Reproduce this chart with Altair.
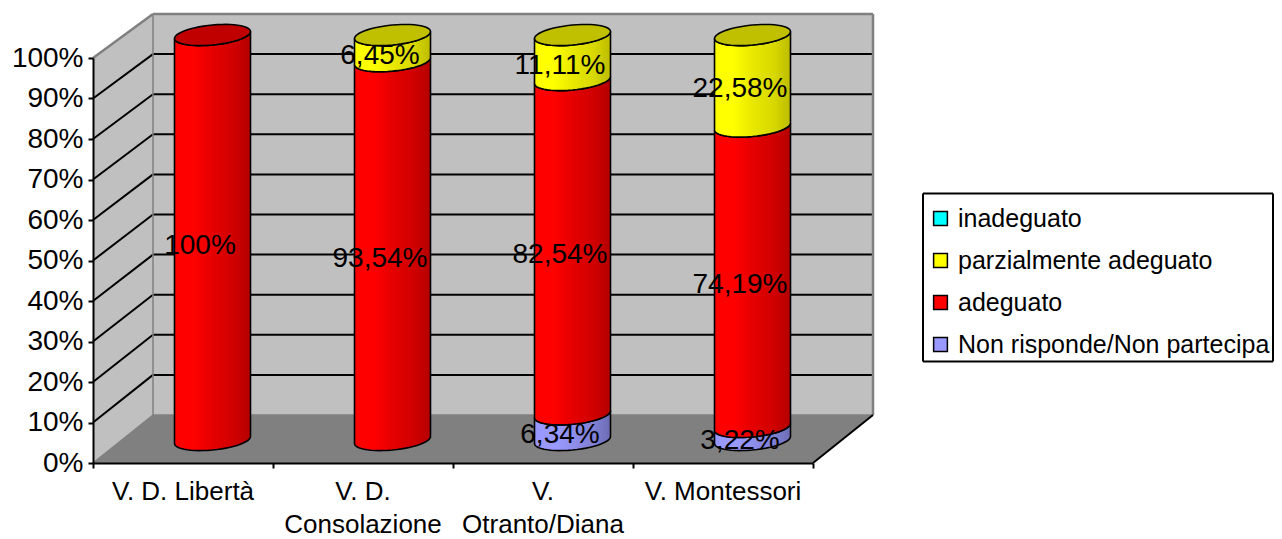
import altair as alt
import numpy as np
import pandas as pd

# ---- data
categories = ["V. D. Libertà", "V. D.\nConsolazione", "V.\nOtranto/Diana", "V. Montessori"]
series_names = ["inadeguato", "parzialmente adeguato", "adeguato", "Non risponde/Non partecipa"]
series_colors = ["#00ffff", "#ffff00", "#ff0000", "#9999ff"]
non_risponde = [0, 0, 6.34, 3.22]
adeguato = [100, 93.54, 82.54, 74.19]
parziale = [0, 6.45, 11.11, 22.58]
non_risponde_lbl = ["", "", "6,34%", "3,22%"]
adeguato_lbl = ["100%", "93,54%", "82,54%", "74,19%"]
parziale_lbl = ["", "6,45%", "11,11%", "22,58%"]
y_ticks = list(range(0, 101, 10))

FONT = "Liberation Sans"
PXY = 4.05      # pixels per percent on the front plane
PXX = 180.0     # pixels per category
DX = 60 / PXX   # depth shift of back wall, category units
BACK0 = 48 / PXY          # back wall floor level in percent units
BACKK = 4.01 / PXY        # back wall scale
BARC = 0.6639   # bar centre offset from category start (category units)
BARR = 0.2111   # bar radius in category units
BASE = 23 / PXY # bar base centre height
ELL_A = 10 / PXY
ELL_T = 3.5 / PXY

X = alt.X("x:Q", title=None, scale=alt.Scale(domain=[0, 4], nice=False, zero=False),
          axis=alt.Axis(values=[0, 1, 2, 3, 4], labels=False, grid=False, tickSize=5, tickWidth=2,
                        tickColor="black", domainColor="black", domainWidth=2, zindex=1))
Y = alt.Y("y:Q", title=None, scale=alt.Scale(domain=[0, 100], nice=False, zero=False),
          axis=alt.Axis(values=y_ticks, labelExpr="datum.value + '%'", grid=False, tickSize=5, tickWidth=2,
                        tickColor="black", domainColor="black", domainWidth=2, labelFont=FONT,
                        labelFontSize=28, labelColor="black", labelPadding=5, zindex=1))
Y2 = alt.Y2("y2:Q")


def area(rows, **mark):
    return alt.Chart(pd.DataFrame(rows, columns=["x", "y", "y2"])).mark_area(
        orient="vertical", opacity=1, **mark).encode(x=X, y=Y, y2=Y2)


def rules(rows, color, width):
    return alt.Chart(pd.DataFrame(rows, columns=["x", "y", "x2", "y2"])).mark_rule(
        color=color, strokeWidth=width).encode(x=X, y=Y, x2="x2:Q", y2=Y2)


def back(p):
    return BACK0 + BACKK * p


def grad(stops):
    return alt.Gradient(gradient="linear", x1=0, x2=1, y1=0, y2=0,
                        stops=[alt.GradientStop(offset=o, color=c) for o, c in stops])


RED = grad([(0, "#f80000"), (0.06, "#ff0000"), (0.25, "#ff0000"), (0.5, "#e60000"), (0.78, "#d00000"), (1, "#b40000")])
YEL = grad([(0, "#f8f800"), (0.06, "#ffff00"), (0.25, "#ffff00"), (0.5, "#e8e800"), (0.78, "#d8d800"), (1, "#bcbc00")])
BLU = grad([(0, "#9494f8"), (0.06, "#9999ff"), (0.3, "#9999ff"), (0.55, "#8c8ce8"), (0.8, "#7e7ed2"), (1, "#6c6cb4")])

# ---- walls and floor
layers = [
    area([(DX, back(0), back(100)), (4 + DX, back(0), back(100))], fill="#c0c0c0"),
    area([(0, 0, 100), (DX, back(0), back(100))], fill="#c0c0c0"),
    area([(0, 0, 0), (DX, 0, back(0)), (4, 0, back(0)), (4 + DX, back(0), back(0))], fill="#808080"),
]
grid_vals = [v for v in y_ticks if v > 0 and v < 100]
layers.append(rules([(DX, back(v), 4 + DX, back(v)) for v in grid_vals], "black", 2))
layers.append(rules([(0, v, DX, back(v)) for v in grid_vals], "black", 2))
layers.append(rules([(DX, back(100), 4 + DX, back(100)), (4 + DX, back(0), 4 + DX, back(100)),
                     (0, 100, DX, back(100))], "#808080", 2.5))
layers.append(rules([(DX, back(0), DX, back(100)), (0, 0, DX, back(0)), (DX, back(0), 4 + DX, back(0))],
                    "#808080", 1.5))
layers.append(rules([(4, 0, 4 + DX, back(0))], "black", 2))

# ---- cylinders
us = -np.cos(np.linspace(0, np.pi, 27))


def lower(i, p):
    return [(i + BARC + BARR * u, BASE + p + ELL_T * u - ELL_A * np.sqrt(max(0, 1 - u * u))) for u in us]


def upper(i, p):
    return [(i + BARC + BARR * u, BASE + p + ELL_T * u + ELL_A * np.sqrt(max(0, 1 - u * u))) for u in us]


def band(i, a, b, fill):
    lo, hi = lower(i, a), lower(i, b)
    return area([(l[0], l[1], h[1]) for l, h in zip(lo, hi)], fill=fill, stroke="black", strokeWidth=1.6)


for i in range(len(categories)):
    a = 0.0
    top_col = "#c00000"
    for val, fill, cap in ((non_risponde[i], BLU, "#7373c0"), (adeguato[i], RED, "#c00000"), (parziale[i], YEL, "#c0c000")):
        if val > 0:
            layers.append(band(i, a, a + val, fill))
            a += val
            top_col = cap
    lo, hi = lower(i, a), upper(i, a)
    layers.append(area([(l[0], l[1], h[1]) for l, h in zip(lo, hi)], fill=top_col, stroke="black", strokeWidth=1.6))

# ---- data labels
lab_x, lab_y, lab_t = [], [], []
for i in range(len(categories)):
    a = 0.0
    for val, txt in ((non_risponde[i], non_risponde_lbl[i]), (adeguato[i], adeguato_lbl[i]), (parziale[i], parziale_lbl[i])):
        if val > 0:
            lab_x.append(i + 0.5 + 17 / PXX)
            lab_y.append(a + val / 2 + 15 / PXY)
            lab_t.append(txt)
            a += val
layers.append(alt.Chart(pd.DataFrame({"x": lab_x, "y": lab_y, "t": lab_t})).mark_text(
    font=FONT, fontSize=28, color="black", baseline="middle", align="center").encode(x=X, y=Y, text="t:N"))

# ---- category labels
layers.append(alt.Chart(pd.DataFrame({"x": [i + 0.5 for i in range(4)], "y": [-37 / PXY] * 4, "t": categories})).mark_text(
    font=FONT, fontSize=26, color="black", baseline="alphabetic", align="center", lineBreak="\n", lineHeight=33
).encode(x=X, y=Y, text="t:N"))

# ---- legend frame (the legend's own box cannot be taller than its padding allows at this width)
bx0, bx1 = (923 - 93) / PXX, (1273 - 93) / PXX
by0, by1 = (463 - 361.6) / PXY, (463 - 193.5) / PXY
layers.append(rules([(bx0, by0, bx1, by0), (bx0, by1, bx1, by1), (bx0, by0, bx0, by1), (bx1, by0, bx1, by1)],
                    "black", 2))

# ---- legend
layers.append(alt.Chart(pd.DataFrame({"x": [0] * 4, "y": [0] * 4, "s": series_names})).mark_square(
    size=0, opacity=0).encode(
    x=X, y=Y,
    fill=alt.Fill("s:N", scale=alt.Scale(domain=series_names, range=series_colors),
                  legend=alt.Legend(title=None, orient="none", legendX=825, legendY=138, padding=10,
                                    symbolType="square", symbolSize=190,
                                    symbolStrokeColor="black", symbolStrokeWidth=1.5, symbolOpacity=1,
                                    labelFont=FONT, labelFontSize=25, labelColor="black", labelLimit=500,
                                    rowPadding=16, labelOffset=5))))

chart = alt.layer(*layers).properties(
    width=720, height=405,
    padding={"left": 85, "top": 50, "right": 461, "bottom": 76},
    autosize=alt.AutoSizeParams(type="none"),
).configure_view(stroke=None).configure(background="white")

chart.save("out.html", embed_options={"renderer": "svg", "actions": False})
